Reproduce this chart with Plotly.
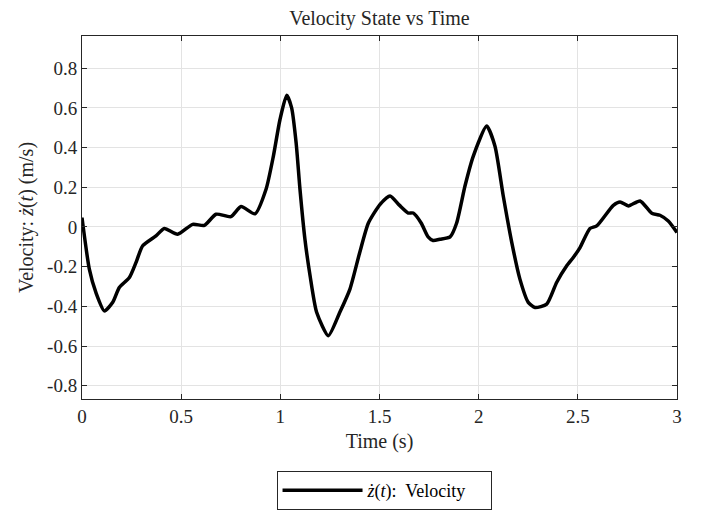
import plotly.graph_objects as go

# Sampled velocity trace ż(t)
time_s = [0.0, 0.037, 0.07, 0.113, 0.155, 0.188, 0.239, 0.272, 0.306, 0.373, 0.415,
          0.482, 0.558, 0.617, 0.676, 0.751, 0.802, 0.872, 0.928, 0.965, 0.998,
          1.032, 1.057, 1.08, 1.099, 1.124, 1.15, 1.183, 1.242, 1.30, 1.351, 1.40, 1.444,
          1.503, 1.553, 1.60, 1.645, 1.67, 1.71, 1.745, 1.77, 1.805, 1.856, 1.889,
          1.931, 1.973, 2.04, 2.082, 2.124, 2.167, 2.208, 2.25, 2.284, 2.343, 2.393,
          2.444, 2.477, 2.511, 2.561, 2.595, 2.679, 2.713, 2.755, 2.814, 2.873, 2.914,
          2.956, 3.0]
velocity = [0.047, -0.213, -0.33, -0.423, -0.38, -0.305, -0.255, -0.18, -0.095, -0.045,
            -0.008, -0.037, 0.013, 0.008, 0.064, 0.052, 0.103, 0.066, 0.19, 0.357, 0.54,
            0.663, 0.60, 0.42, 0.19, -0.062, -0.246, -0.43, -0.548, -0.43, -0.313, -0.13, 0.02,
            0.114, 0.156, 0.11, 0.07, 0.07, 0.02, -0.05, -0.068, -0.062, -0.05, 0.02,
            0.206, 0.357, 0.508, 0.408, 0.156, -0.079, -0.263, -0.38, -0.406, -0.389,
            -0.28, -0.196, -0.154, -0.104, -0.008, 0.005, 0.109, 0.126, 0.106, 0.131,
            0.069, 0.059, 0.03, -0.028]

x_ticks = [0, 0.5, 1, 1.5, 2, 2.5, 3]
x_tick_text = ["0", "0.5", "1", "1.5", "2", "2.5", "3"]
y_ticks = [-0.8, -0.6, -0.4, -0.2, 0, 0.2, 0.4, 0.6, 0.8]
y_tick_text = ["-0.8", "-0.6", "-0.4", "-0.2", "0", "0.2", "0.4", "0.6", "0.8"]

serif = "Liberation Serif"
ink = "#262626"

fig = go.Figure()
fig.add_trace(go.Scatter(
    x=time_s, y=velocity, mode="lines",
    line=dict(color="black", width=3.5, shape="spline", smoothing=0.6),
    name="<i>ż</i>(<i>t</i>):  Velocity",
))

axis_common = dict(
    showline=True, linecolor=ink, linewidth=1, mirror="ticks",
    ticks="inside", ticklen=5, tickcolor=ink, tickwidth=1,
    showgrid=True, gridcolor="#e3e3e3", gridwidth=1,
    zeroline=False,
    tickfont=dict(family=serif, size=19, color=ink),
)

fig.update_xaxes(
    range=[0, 3], tickvals=x_ticks, ticktext=x_tick_text,
    title=dict(text="Time (s)", font=dict(family=serif, size=20, color=ink), standoff=8),
    **axis_common,
)
fig.update_yaxes(
    range=[-0.867, 0.962], tickvals=y_ticks, ticktext=y_tick_text,
    title=dict(text="Velocity: <i>ż</i>(<i>t</i>) (m/s)",
               font=dict(family=serif, size=20, color=ink), standoff=8),
    **axis_common,
)

fig.update_layout(
    width=704, height=515,
    margin=dict(l=82, r=27, t=36, b=116),
    paper_bgcolor="white", plot_bgcolor="white",
    title=dict(text="Velocity State vs Time", x=0.539, xanchor="center",
               y=0.965, yanchor="middle",
               font=dict(family=serif, size=20, color=ink)),
    showlegend=True,
    legend=dict(
        xref="container", yref="container",
        x=0.5455, xanchor="center", y=0.0476, yanchor="middle",
        orientation="h", entrywidth=118,
        bgcolor="white", bordercolor=ink, borderwidth=1,
        font=dict(family=serif, size=18, color="black"),
        itemwidth=80,
    ),
)

fig.write_html("out.html")
